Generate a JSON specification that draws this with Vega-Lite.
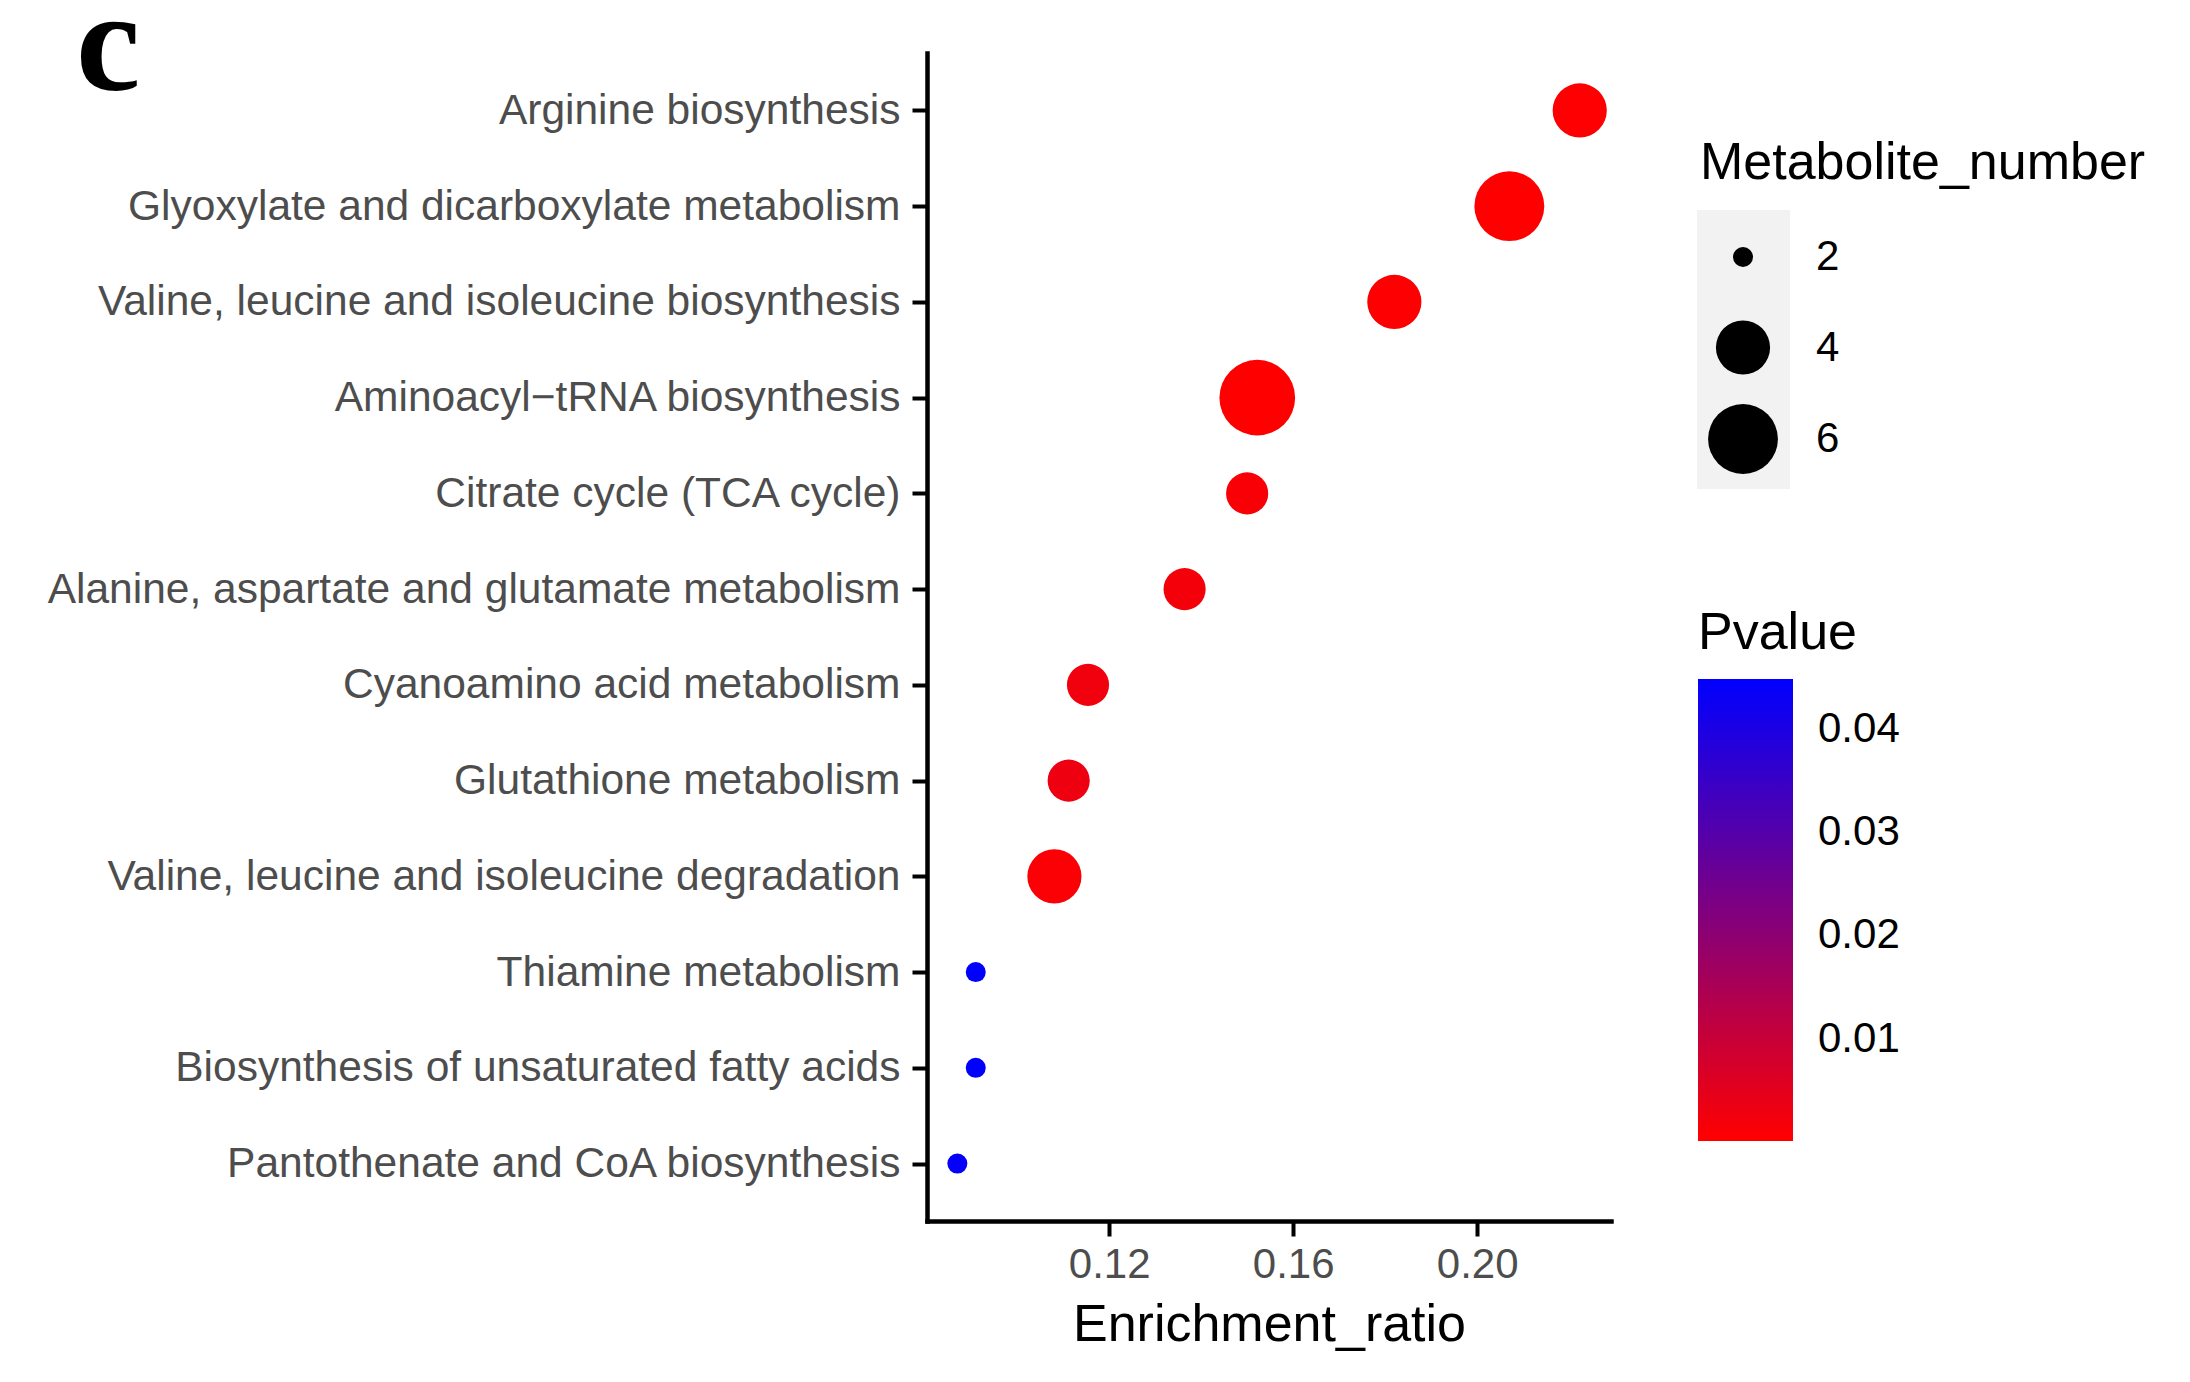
{
  "$schema": "https://vega.github.io/schema/vega-lite/v6.json",
  "width": 684,
  "height": 1168,
  "autosize": {"type": "none"},
  "padding": {"left": 927, "top": 53, "right": 579, "bottom": 161},
  "background": "white",
  "title": {"text": "c", "anchor": "start", "frame": "group", "dx": -851, "dy": 67, "offset": 0, "font": "Liberation Serif", "fontSize": 145, "fontWeight": "bold", "color": "black"},
  "config": {"view": {"stroke": null}, "axis": {"grid": false}},
  "data": {
    "values": [
      {"Pathway": "Arginine biosynthesis", "Enrichment_ratio": 0.2223, "Metabolite_number": 4, "Pvalue": 0.0003},
      {"Pathway": "Glyoxylate and dicarboxylate metabolism", "Enrichment_ratio": 0.2070, "Metabolite_number": 6, "Pvalue": 0.0001},
      {"Pathway": "Valine, leucine and isoleucine biosynthesis", "Enrichment_ratio": 0.1820, "Metabolite_number": 4, "Pvalue": 0.0004},
      {"Pathway": "Aminoacyl−tRNA biosynthesis", "Enrichment_ratio": 0.1522, "Metabolite_number": 7, "Pvalue": 0.0001},
      {"Pathway": "Citrate cycle (TCA cycle)", "Enrichment_ratio": 0.1500, "Metabolite_number": 3, "Pvalue": 0.0012},
      {"Pathway": "Alanine, aspartate and glutamate metabolism", "Enrichment_ratio": 0.1364, "Metabolite_number": 3, "Pvalue": 0.0020},
      {"Pathway": "Cyanoamino acid metabolism", "Enrichment_ratio": 0.1154, "Metabolite_number": 3, "Pvalue": 0.0025},
      {"Pathway": "Glutathione metabolism", "Enrichment_ratio": 0.1112, "Metabolite_number": 3, "Pvalue": 0.0030},
      {"Pathway": "Valine, leucine and isoleucine degradation", "Enrichment_ratio": 0.1081, "Metabolite_number": 4, "Pvalue": 0.0008},
      {"Pathway": "Thiamine metabolism", "Enrichment_ratio": 0.0910, "Metabolite_number": 2, "Pvalue": 0.0448},
      {"Pathway": "Biosynthesis of unsaturated fatty acids", "Enrichment_ratio": 0.0910, "Metabolite_number": 2, "Pvalue": 0.0448},
      {"Pathway": "Pantothenate and CoA biosynthesis", "Enrichment_ratio": 0.0870, "Metabolite_number": 2, "Pvalue": 0.0440}
    ]
  },
  "mark": {"type": "point", "filled": true, "opacity": 1, "strokeWidth": 0},
  "encoding": {
    "x": {
      "field": "Enrichment_ratio", "type": "quantitative",
      "scale": {"domain": [0.0804, 0.2291], "nice": false, "zero": false},
      "axis": {"values": [0.12, 0.16, 0.2], "format": ".2f", "title": "Enrichment_ratio", "titleFont": "Liberation Sans", "titleFontSize": 52, "titleFontWeight": "normal", "titleColor": "black", "titleBaseline": "alphabetic", "titleY": 119, "labelFont": "Liberation Sans", "labelFontSize": 42, "labelColor": "#4d4d4d", "labelPadding": 8, "labelFlush": false, "tickSize": 15, "tickWidth": 4, "tickColor": "black", "domainColor": "black", "domainWidth": 4.5, "domainCap": "square", "grid": false}
    },
    "y": {
      "field": "Pathway", "type": "nominal", "sort": null,
      "scale": {"type": "point", "padding": 0.6},
      "axis": {"title": null, "labelFont": "Liberation Sans", "labelFontSize": 42.5, "labelColor": "#4d4d4d", "labelPadding": 12, "labelLimit": 1000, "tickSize": 15, "tickWidth": 4, "tickColor": "black", "domainColor": "black", "domainWidth": 4.5, "domainCap": "square", "grid": false}
    },
    "shape": {
      "datum": "k1", "type": "nominal",
      "scale": {"domain": ["k1", "k2", "k3"], "range": ["circle", "circle", "circle"]},
      "legend": {"orient": "none", "legendX": 770, "legendY": 157, "title": null, "zindex": 0, "symbolType": "square", "symbolSize": 8556, "symbolFillColor": "#f2f2f2", "symbolStrokeWidth": 0, "rowPadding": 0, "gridAlign": "all", "labelExpr": "''", "labelOffset": 0, "padding": 0, "fillColor": "#f2f2f2"}
    },
    "size": {
      "field": "Metabolite_number", "type": "quantitative",
      "scale": {"type": "sqrt", "domain": [2, 7], "range": [400, 5730], "zero": false},
      "legend": {"orient": "none", "legendX": 773, "legendY": 85, "zindex": 1, "values": [2, 4, 6], "title": "Metabolite_number", "titleFont": "Liberation Sans", "titleFontSize": 52, "titleFontWeight": "normal", "titleColor": "black", "titlePadding": 46, "titleLimit": 1000, "labelFont": "Liberation Sans", "labelFontSize": 42, "labelColor": "black", "labelOffset": 38, "labelLimit": 1000, "symbolOffset": 8, "rowPadding": 14, "gridAlign": "all", "symbolType": "circle", "symbolFillColor": "black", "symbolStrokeWidth": 0, "symbolOpacity": 1, "padding": 0,
        "encode": {"symbols": {"update": {"fill": {"value": "black"}, "stroke": {"value": "transparent"}, "shape": {"value": "circle"}, "opacity": {"value": 1}}}}}
    },
    "color": {
      "field": "Pvalue", "type": "quantitative",
      "scale": {"domain": [0.0001, 0.0448], "range": ["#ff0000", "#0000ff"], "interpolate": "rgb"},
      "legend": {"orient": "none", "legendX": 771, "legendY": 555, "zindex": 1, "direction": "vertical", "gradientLength": 462, "gradientThickness": 95, "gradientStrokeWidth": 0, "values": [0.01, 0.02, 0.03, 0.04], "format": ".2f", "title": "Pvalue", "titleFont": "Liberation Sans", "titleFontSize": 52, "titleFontWeight": "normal", "titleColor": "black", "titlePadding": 19, "titleLimit": 1000, "labelFont": "Liberation Sans", "labelFontSize": 42, "labelColor": "black", "labelOffset": 25, "labelLimit": 1000, "padding": 0}
    }
  }
}
